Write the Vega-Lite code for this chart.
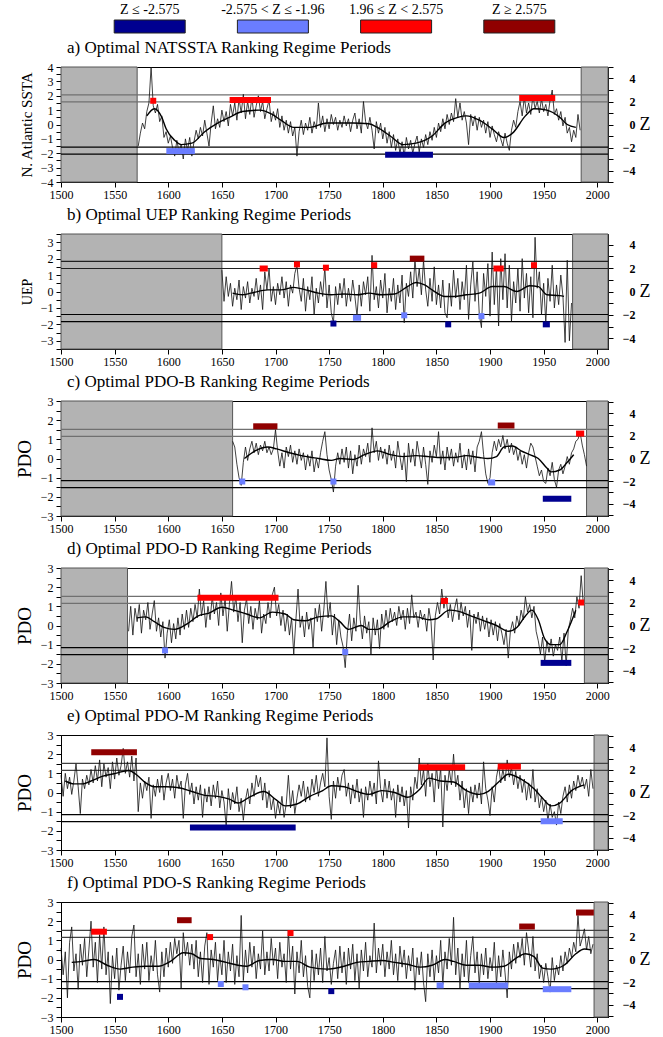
{
"$schema": "https://vega.github.io/schema/vega-lite/v6.json",
"padding": {"left": 14, "top": 2, "right": 4, "bottom": 2},
"spacing": 4,
"vconcat": [
{
 "width": 547, "height": 13,
 "view": {"stroke": null},
 "data": {"values": [{"c":"Z ≤ -2.575"},{"c":"-2.575 < Z ≤ -1.96"},{"c":"1.96 ≤ Z < 2.575"},{"c":"Z ≥ 2.575"}]},
 "mark": {"type": "bar", "width": 71, "stroke": "#222", "strokeWidth": 1},
 "encoding": {
  "x": {"field": "c", "type": "nominal", "sort": null, "scale": {"paddingInner": 0.4, "paddingOuter": 0.42}, "title": null,
        "axis": {"orient": "top", "domain": false, "ticks": false, "labelAngle": 0, "labelFontSize": 14, "labelPadding": 4}},
  "color": {"field": "c", "type": "nominal", "scale": {"domain": ["Z ≤ -2.575","-2.575 < Z ≤ -1.96","1.96 ≤ Z < 2.575","Z ≥ 2.575"], "range": ["#000090","#6a7dff","#ff0000","#900000"]}, "legend": null}
 }
},
{
 "width": 547, "height": 115,
 "title": {"text": "a) Optimal NATSSTA Ranking Regime Periods"},
 "resolve": {"scale": {"y": "independent"}},
 "layer": [
  {"data": {"values": [{"s":1500,"e":1571},{"s":1985,"e":2010}]},
   "mark": {"type": "rect", "fill": "#b3b3b3", "stroke": "#555", "strokeWidth": 1},
   "encoding": {"x": {"field": "s", "type": "quantitative", "scale": {"domain": [1500, 2010], "nice": false, "zero": false}, "title": null}, "x2": {"field": "e"}}},
  {"data": {"values": [{"z":1.96},{"z":2.575},{"z":-1.96},{"z":-2.575}]},
   "mark": {"type": "rule", "strokeWidth": 1.2},
   "encoding": {"y": {"field": "z", "type": "quantitative", "scale": {"domain": [-5, 5], "nice": false, "zero": false}, "axis": {"orient": "right", "title": "Z", "values": [-5,-4,-3,-2,-1,0,1,2,3,4,5]}},
     "color": {"condition": {"test": "datum.z > 0", "value": "#707070"}, "value": "#000"}}},
  {"layer": [
   {"data": {"values": [{"t":1572,"v":-1.5},{"t":1574,"v":-0.6},{"t":1576,"v":0.1},{"t":1578,"v":-0.3},{"t":1580,"v":0.9},{"t":1582,"v":1.5},{"t":1584,"v":4.0},{"t":1586,"v":1.3},{"t":1588,"v":0.8},{"t":1590,"v":1.4},{"t":1592,"v":0.2},{"t":1594,"v":0.6},{"t":1596,"v":-0.9},{"t":1598,"v":-0.5},{"t":1600,"v":-1.3},{"t":1602,"v":-0.8},{"t":1604,"v":-1.6},{"t":1606,"v":-2.2},{"t":1608,"v":-1.1},{"t":1610,"v":-1.9},{"t":1612,"v":-1.4},{"t":1614,"v":-2.4},{"t":1616,"v":-1.0},{"t":1618,"v":-1.8},{"t":1620,"v":-0.9},{"t":1622,"v":-2.2},{"t":1624,"v":-1.2},{"t":1626,"v":-0.4},{"t":1628,"v":-1.0},{"t":1630,"v":-0.2},{"t":1632,"v":-0.8},{"t":1634,"v":0.3},{"t":1636,"v":-0.6},{"t":1638,"v":-1.5},{"t":1640,"v":0.1},{"t":1642,"v":1.3},{"t":1644,"v":-0.3},{"t":1646,"v":0.4},{"t":1648,"v":-0.2},{"t":1650,"v":1.0},{"t":1652,"v":0.2},{"t":1654,"v":0.9},{"t":1656,"v":-0.1},{"t":1658,"v":1.4},{"t":1660,"v":0.6},{"t":1662,"v":1.5},{"t":1664,"v":0.3},{"t":1666,"v":1.8},{"t":1668,"v":0.8},{"t":1670,"v":2.1},{"t":1672,"v":0.4},{"t":1674,"v":1.6},{"t":1676,"v":0.7},{"t":1678,"v":1.9},{"t":1680,"v":0.5},{"t":1682,"v":1.3},{"t":1684,"v":2.0},{"t":1686,"v":0.9},{"t":1688,"v":1.6},{"t":1690,"v":0.4},{"t":1692,"v":1.1},{"t":1694,"v":1.7},{"t":1696,"v":0.2},{"t":1698,"v":0.9},{"t":1700,"v":0.3},{"t":1702,"v":1.1},{"t":1704,"v":-0.2},{"t":1706,"v":0.6},{"t":1708,"v":-0.4},{"t":1710,"v":0.3},{"t":1712,"v":-0.6},{"t":1714,"v":0.2},{"t":1716,"v":-0.8},{"t":1718,"v":-0.2},{"t":1720,"v":-2.2},{"t":1722,"v":-0.5},{"t":1724,"v":0.3},{"t":1726,"v":-0.7},{"t":1728,"v":0.1},{"t":1730,"v":-0.4},{"t":1732,"v":0.5},{"t":1734,"v":-0.6},{"t":1736,"v":0.2},{"t":1738,"v":-0.3},{"t":1740,"v":1.5},{"t":1742,"v":-0.2},{"t":1744,"v":0.6},{"t":1746,"v":-0.5},{"t":1748,"v":0.4},{"t":1750,"v":-0.3},{"t":1752,"v":0.7},{"t":1754,"v":0.0},{"t":1756,"v":0.5},{"t":1758,"v":-0.4},{"t":1760,"v":0.3},{"t":1762,"v":-0.2},{"t":1764,"v":0.6},{"t":1766,"v":-0.1},{"t":1768,"v":0.4},{"t":1770,"v":-0.5},{"t":1772,"v":0.3},{"t":1774,"v":0.8},{"t":1776,"v":-0.3},{"t":1778,"v":0.4},{"t":1780,"v":-0.6},{"t":1782,"v":1.6},{"t":1784,"v":0.2},{"t":1786,"v":-0.3},{"t":1788,"v":0.5},{"t":1790,"v":-0.4},{"t":1792,"v":-1.7},{"t":1794,"v":0.2},{"t":1796,"v":-0.6},{"t":1798,"v":0.1},{"t":1800,"v":-1.0},{"t":1802,"v":-0.2},{"t":1804,"v":-1.3},{"t":1806,"v":-0.5},{"t":1808,"v":-1.6},{"t":1810,"v":-0.7},{"t":1812,"v":-1.8},{"t":1814,"v":-1.0},{"t":1816,"v":-2.0},{"t":1818,"v":-1.2},{"t":1820,"v":-2.2},{"t":1822,"v":-0.9},{"t":1824,"v":-1.7},{"t":1826,"v":-1.1},{"t":1828,"v":-2.0},{"t":1830,"v":-1.3},{"t":1832,"v":-0.8},{"t":1834,"v":-1.9},{"t":1836,"v":-1.0},{"t":1838,"v":-1.6},{"t":1840,"v":-0.7},{"t":1842,"v":-1.4},{"t":1844,"v":-0.5},{"t":1846,"v":-1.1},{"t":1848,"v":-0.2},{"t":1850,"v":-0.9},{"t":1852,"v":0.1},{"t":1854,"v":-0.5},{"t":1856,"v":0.4},{"t":1858,"v":-0.3},{"t":1860,"v":0.7},{"t":1862,"v":0.0},{"t":1864,"v":0.8},{"t":1866,"v":0.2},{"t":1868,"v":1.8},{"t":1870,"v":0.5},{"t":1872,"v":1.5},{"t":1874,"v":0.3},{"t":1876,"v":0.9},{"t":1878,"v":0.1},{"t":1880,"v":-1.4},{"t":1882,"v":0.7},{"t":1884,"v":-0.1},{"t":1886,"v":0.6},{"t":1888,"v":-0.4},{"t":1890,"v":0.5},{"t":1892,"v":-0.2},{"t":1894,"v":0.3},{"t":1896,"v":-0.6},{"t":1898,"v":0.2},{"t":1900,"v":-0.9},{"t":1902,"v":-0.1},{"t":1904,"v":-0.7},{"t":1906,"v":-1.2},{"t":1908,"v":-0.5},{"t":1910,"v":-1.0},{"t":1912,"v":-1.5},{"t":1914,"v":-0.6},{"t":1916,"v":-1.3},{"t":1918,"v":-1.8},{"t":1920,"v":-0.4},{"t":1922,"v":0.3},{"t":1924,"v":-0.2},{"t":1926,"v":0.9},{"t":1928,"v":1.6},{"t":1930,"v":0.6},{"t":1932,"v":1.9},{"t":1934,"v":0.8},{"t":1936,"v":1.5},{"t":1938,"v":0.7},{"t":1940,"v":2.0},{"t":1942,"v":1.1},{"t":1944,"v":1.6},{"t":1946,"v":0.8},{"t":1948,"v":1.8},{"t":1950,"v":0.9},{"t":1952,"v":1.4},{"t":1954,"v":0.6},{"t":1956,"v":1.7},{"t":1958,"v":2.4},{"t":1960,"v":0.7},{"t":1962,"v":1.1},{"t":1964,"v":0.3},{"t":1966,"v":0.9},{"t":1968,"v":-0.1},{"t":1970,"v":0.5},{"t":1972,"v":-0.6},{"t":1974,"v":-0.2},{"t":1976,"v":-1.2},{"t":1978,"v":-0.4},{"t":1980,"v":-0.9},{"t":1982,"v":0.7},{"t":1984,"v":-0.4}]},
    "mark": {"type": "line", "color": "#111", "strokeWidth": 0.8},
    "encoding": {"x": {"field": "t", "type": "quantitative", "title": null}, "y": {"field": "v", "type": "quantitative", "scale": {"domain": [-4, 4], "nice": false, "zero": false}, "axis": {"orient": "left", "title": "N. Atlantic SSTA", "titleFontSize": 15, "values": [-4,-3.5,-3,-2.5,-2,-1.5,-1,-0.5,0,0.5,1,1.5,2,2.5,3,3.5,4]}}}},
   {"data": {"values": [{"t":1580,"v":0.6},{"t":1587,"v":1.1},{"t":1594,"v":0.5},{"t":1598,"v":-0.3},{"t":1606,"v":-1.1},{"t":1612,"v":-1.4},{"t":1622,"v":-1.3},{"t":1634,"v":-0.5},{"t":1646,"v":0.1},{"t":1657,"v":0.5},{"t":1669,"v":0.9},{"t":1685,"v":1.0},{"t":1697,"v":0.7},{"t":1705,"v":0.3},{"t":1717,"v":-0.2},{"t":1732,"v":-0.2},{"t":1748,"v":0.1},{"t":1772,"v":0.1},{"t":1787,"v":0.05},{"t":1795,"v":-0.2},{"t":1807,"v":-0.8},{"t":1819,"v":-1.4},{"t":1831,"v":-1.3},{"t":1846,"v":-0.8},{"t":1858,"v":0.1},{"t":1870,"v":0.5},{"t":1878,"v":0.6},{"t":1890,"v":0.3},{"t":1902,"v":-0.3},{"t":1913,"v":-0.9},{"t":1921,"v":-0.6},{"t":1933,"v":0.6},{"t":1941,"v":1.1},{"t":1953,"v":1.0},{"t":1965,"v":0.5},{"t":1972,"v":0.0},{"t":1980,"v":-0.2}]},
    "mark": {"type": "line", "color": "#000", "strokeWidth": 1.4, "interpolate": "monotone"},
    "encoding": {"x": {"field": "t", "type": "quantitative", "title": null}, "y": {"field": "v", "type": "quantitative", "axis": {"orient": "left", "title": "N. Atlantic SSTA", "titleFontSize": 15, "values": [-4,-3.5,-3,-2.5,-2,-1.5,-1,-0.5,0,0.5,1,1.5,2,2.5,3,3.5,4]}}}},
   {"data": {"values": [{"s":1586,"e":1586,"v":1.65,"c":"1.96 ≤ Z < 2.575"},{"s":1660,"e":1693,"v":1.7,"c":"1.96 ≤ Z < 2.575"},{"s":1930,"e":1958,"v":1.85,"c":"1.96 ≤ Z < 2.575"},{"s":1601,"e":1622,"v":-1.85,"c":"-2.575 < Z ≤ -1.96"},{"s":1805,"e":1844,"v":-2.1,"c":"Z ≤ -2.575"}]},
    "mark": {"type": "rule", "strokeWidth": 6, "strokeCap": "square"},
    "encoding": {"x": {"field": "s", "type": "quantitative", "title": null}, "x2": {"field": "e"}, "y": {"field": "v", "type": "quantitative", "axis": {"orient": "left", "title": "N. Atlantic SSTA", "titleFontSize": 15, "values": [-4,-3.5,-3,-2.5,-2,-1.5,-1,-0.5,0,0.5,1,1.5,2,2.5,3,3.5,4]}},
      "color": {"field": "c", "type": "nominal", "scale": {"domain": ["Z ≤ -2.575","-2.575 < Z ≤ -1.96","1.96 ≤ Z < 2.575","Z ≥ 2.575"], "range": ["#000090","#6a7dff","#ff0000","#900000"]}, "legend": null}}}
  ]}
 ]
},
{
 "width": 547, "height": 115,
 "title": {"text": "b) Optimal UEP Ranking Regime Periods"},
 "resolve": {"scale": {"y": "independent"}},
 "layer": [
  {"data": {"values": [{"s":1500,"e":1650},{"s":1977,"e":2010}]},
   "mark": {"type": "rect", "fill": "#b3b3b3", "stroke": "#555", "strokeWidth": 1},
   "encoding": {"x": {"field": "s", "type": "quantitative", "scale": {"domain": [1500, 2010], "nice": false, "zero": false}, "title": null}, "x2": {"field": "e"}}},
  {"data": {"values": [{"z":1.96},{"z":2.575},{"z":-1.96},{"z":-2.575}]},
   "mark": {"type": "rule", "strokeWidth": 1.2},
   "encoding": {"y": {"field": "z", "type": "quantitative", "scale": {"domain": [-4.9, 4.9], "nice": false, "zero": false}, "axis": {"orient": "right", "title": "Z", "values": [-4,-3,-2,-1,0,1,2,3,4]}},
     "color": {"condition": {"test": "datum.z > 0", "value": "#202020"}, "value": "#000"}}},
  {"layer": [
   {"data": {"values": [{"t":1650,"v":1.3},{"t":1652,"v":-0.6},{"t":1654,"v":0.9},{"t":1656,"v":-0.3},{"t":1658,"v":0.5},{"t":1660,"v":-0.9},{"t":1662,"v":0.2},{"t":1664,"v":-0.5},{"t":1666,"v":0.7},{"t":1668,"v":-1.1},{"t":1670,"v":0.3},{"t":1672,"v":-0.4},{"t":1674,"v":0.6},{"t":1676,"v":-0.7},{"t":1678,"v":0.2},{"t":1680,"v":-0.3},{"t":1682,"v":0.8},{"t":1684,"v":-0.5},{"t":1686,"v":0.4},{"t":1688,"v":-1.1},{"t":1690,"v":1.2},{"t":1692,"v":0.1},{"t":1694,"v":1.4},{"t":1696,"v":-0.6},{"t":1698,"v":0.3},{"t":1700,"v":-0.8},{"t":1702,"v":0.5},{"t":1704,"v":-0.2},{"t":1706,"v":0.9},{"t":1708,"v":-0.4},{"t":1710,"v":0.6},{"t":1712,"v":-0.9},{"t":1714,"v":0.4},{"t":1716,"v":-0.1},{"t":1718,"v":1.1},{"t":1720,"v":1.6},{"t":1722,"v":0.2},{"t":1724,"v":-0.6},{"t":1726,"v":0.8},{"t":1728,"v":-1.2},{"t":1730,"v":0.3},{"t":1732,"v":-0.5},{"t":1734,"v":0.9},{"t":1736,"v":-1.4},{"t":1738,"v":0.2},{"t":1740,"v":-0.7},{"t":1742,"v":0.6},{"t":1744,"v":-0.3},{"t":1746,"v":1.5},{"t":1748,"v":-1.0},{"t":1750,"v":0.4},{"t":1752,"v":-1.3},{"t":1754,"v":-1.9},{"t":1756,"v":0.3},{"t":1758,"v":-0.8},{"t":1760,"v":0.5},{"t":1762,"v":-0.4},{"t":1764,"v":0.8},{"t":1766,"v":-0.9},{"t":1768,"v":0.2},{"t":1770,"v":-0.6},{"t":1772,"v":0.7},{"t":1774,"v":-0.3},{"t":1776,"v":-1.5},{"t":1778,"v":0.4},{"t":1780,"v":-0.9},{"t":1782,"v":0.6},{"t":1784,"v":-0.2},{"t":1786,"v":0.9},{"t":1788,"v":-1.2},{"t":1790,"v":2.2},{"t":1792,"v":-0.5},{"t":1794,"v":0.3},{"t":1796,"v":-1.0},{"t":1798,"v":0.7},{"t":1800,"v":-0.4},{"t":1802,"v":1.1},{"t":1804,"v":-1.3},{"t":1806,"v":0.2},{"t":1808,"v":-0.6},{"t":1810,"v":0.8},{"t":1812,"v":-1.1},{"t":1814,"v":0.4},{"t":1816,"v":-0.7},{"t":1818,"v":1.0},{"t":1820,"v":-1.9},{"t":1822,"v":0.5},{"t":1824,"v":-0.3},{"t":1826,"v":1.2},{"t":1828,"v":-0.4},{"t":1830,"v":2.0},{"t":1832,"v":0.3},{"t":1834,"v":1.4},{"t":1836,"v":-0.2},{"t":1838,"v":1.9},{"t":1840,"v":0.1},{"t":1842,"v":-0.9},{"t":1844,"v":0.8},{"t":1846,"v":-0.6},{"t":1848,"v":1.5},{"t":1850,"v":-0.8},{"t":1852,"v":0.4},{"t":1854,"v":-1.0},{"t":1856,"v":0.7},{"t":1858,"v":-1.3},{"t":1860,"v":-1.6},{"t":1862,"v":0.5},{"t":1864,"v":-0.9},{"t":1866,"v":1.3},{"t":1868,"v":-0.4},{"t":1870,"v":0.8},{"t":1872,"v":-1.1},{"t":1874,"v":0.6},{"t":1876,"v":-0.5},{"t":1878,"v":1.6},{"t":1880,"v":-1.7},{"t":1882,"v":0.4},{"t":1884,"v":1.8},{"t":1886,"v":-0.6},{"t":1888,"v":1.2},{"t":1890,"v":-1.4},{"t":1892,"v":-2.2},{"t":1894,"v":1.1},{"t":1896,"v":-0.3},{"t":1898,"v":1.7},{"t":1900,"v":-1.5},{"t":1902,"v":2.4},{"t":1904,"v":-0.8},{"t":1906,"v":1.5},{"t":1908,"v":-2.1},{"t":1910,"v":2.0},{"t":1912,"v":-0.5},{"t":1914,"v":2.3},{"t":1916,"v":-1.0},{"t":1918,"v":1.6},{"t":1920,"v":-1.8},{"t":1922,"v":0.6},{"t":1924,"v":-0.7},{"t":1926,"v":1.4},{"t":1928,"v":-1.2},{"t":1930,"v":2.0},{"t":1932,"v":-0.4},{"t":1934,"v":1.1},{"t":1936,"v":-1.3},{"t":1938,"v":0.9},{"t":1940,"v":-1.6},{"t":1942,"v":3.3},{"t":1944,"v":0.2},{"t":1946,"v":1.2},{"t":1948,"v":-1.4},{"t":1950,"v":0.5},{"t":1952,"v":-1.9},{"t":1954,"v":0.8},{"t":1956,"v":-0.6},{"t":1958,"v":1.6},{"t":1960,"v":-1.0},{"t":1962,"v":0.4},{"t":1964,"v":-0.8},{"t":1966,"v":1.0},{"t":1968,"v":-0.3},{"t":1970,"v":-3.1},{"t":1972,"v":1.9},{"t":1974,"v":-3.0},{"t":1976,"v":-0.7}]},
    "mark": {"type": "line", "color": "#111", "strokeWidth": 0.8},
    "encoding": {"x": {"field": "t", "type": "quantitative", "title": null}, "y": {"field": "v", "type": "quantitative", "scale": {"domain": [-3.5, 3.5], "nice": false, "zero": false}, "axis": {"orient": "left", "title": "UEP", "titleFontSize": 14, "values": [-3.5,-3,-2.5,-2,-1.5,-1,-0.5,0,0.5,1,1.5,2,2.5,3,3.5]}}}},
   {"data": {"values": [{"t":1660,"v":-0.1},{"t":1669,"v":-0.2},{"t":1677,"v":-0.1},{"t":1693,"v":0.1},{"t":1705,"v":0.1},{"t":1717,"v":0.25},{"t":1728,"v":0.1},{"t":1740,"v":-0.1},{"t":1752,"v":-0.2},{"t":1764,"v":-0.15},{"t":1776,"v":-0.2},{"t":1787,"v":-0.1},{"t":1799,"v":-0.2},{"t":1811,"v":-0.15},{"t":1823,"v":0.3},{"t":1831,"v":0.55},{"t":1839,"v":0.4},{"t":1846,"v":0.1},{"t":1858,"v":-0.3},{"t":1866,"v":-0.3},{"t":1878,"v":-0.2},{"t":1890,"v":-0.1},{"t":1902,"v":0.3},{"t":1913,"v":0.3},{"t":1925,"v":0.0},{"t":1937,"v":0.35},{"t":1945,"v":0.3},{"t":1953,"v":-0.2},{"t":1965,"v":-0.25},{"t":1969,"v":-0.3}]},
    "mark": {"type": "line", "color": "#000", "strokeWidth": 1.4, "interpolate": "monotone"},
    "encoding": {"x": {"field": "t", "type": "quantitative", "title": null}, "y": {"field": "v", "type": "quantitative", "axis": {"orient": "left", "title": "UEP", "titleFontSize": 14, "values": [-3.5,-3,-2.5,-2,-1.5,-1,-0.5,0,0.5,1,1.5,2,2.5,3,3.5]}}}},
   {"data": {"values": [{"s":1688,"e":1690,"v":1.4,"c":"1.96 ≤ Z < 2.575"},{"s":1720,"e":1720,"v":1.65,"c":"1.96 ≤ Z < 2.575"},{"s":1747,"e":1747,"v":1.45,"c":"1.96 ≤ Z < 2.575"},{"s":1792,"e":1792,"v":1.6,"c":"1.96 ≤ Z < 2.575"},{"s":1828,"e":1836,"v":2.0,"c":"Z ≥ 2.575"},{"s":1906,"e":1910,"v":1.4,"c":"1.96 ≤ Z < 2.575"},{"s":1941,"e":1941,"v":1.6,"c":"1.96 ≤ Z < 2.575"},{"s":1754,"e":1754,"v":-1.95,"c":"Z ≤ -2.575"},{"s":1775,"e":1777,"v":-1.6,"c":"-2.575 < Z ≤ -1.96"},{"s":1820,"e":1820,"v":-1.45,"c":"-2.575 < Z ≤ -1.96"},{"s":1861,"e":1861,"v":-2.0,"c":"Z ≤ -2.575"},{"s":1892,"e":1892,"v":-1.5,"c":"-2.575 < Z ≤ -1.96"},{"s":1952,"e":1953,"v":-2.0,"c":"Z ≤ -2.575"}]},
    "mark": {"type": "rule", "strokeWidth": 6, "strokeCap": "square"},
    "encoding": {"x": {"field": "s", "type": "quantitative", "title": null}, "x2": {"field": "e"}, "y": {"field": "v", "type": "quantitative", "axis": {"orient": "left", "title": "UEP", "titleFontSize": 14, "values": [-3.5,-3,-2.5,-2,-1.5,-1,-0.5,0,0.5,1,1.5,2,2.5,3,3.5]}},
      "color": {"field": "c", "type": "nominal", "scale": {"domain": ["Z ≤ -2.575","-2.575 < Z ≤ -1.96","1.96 ≤ Z < 2.575","Z ≥ 2.575"], "range": ["#000090","#6a7dff","#ff0000","#900000"]}, "legend": null}}}
  ]}
 ]
},
{
 "width": 547, "height": 115,
 "title": {"text": "c) Optimal PDO-B Ranking Regime Periods"},
 "resolve": {"scale": {"y": "independent"}},
 "layer": [
  {"data": {"values": [{"s":1500,"e":1660},{"s":1990,"e":2010}]},
   "mark": {"type": "rect", "fill": "#b3b3b3", "stroke": "#555", "strokeWidth": 1},
   "encoding": {"x": {"field": "s", "type": "quantitative", "scale": {"domain": [1500, 2010], "nice": false, "zero": false}, "title": null}, "x2": {"field": "e"}}},
  {"data": {"values": [{"z":1.96},{"z":2.575},{"z":-1.96},{"z":-2.575}]},
   "mark": {"type": "rule", "strokeWidth": 1.2},
   "encoding": {"y": {"field": "z", "type": "quantitative", "scale": {"domain": [-5.1, 5.1], "nice": false, "zero": false}, "axis": {"orient": "right", "title": "Z", "values": [-5,-4,-3,-2,-1,0,1,2,3,4,5]}},
     "color": {"condition": {"test": "datum.z > 0", "value": "#707070"}, "value": "#000"}}},
  {"layer": [
   {"data": {"values": [{"t":1660,"v":0.9},{"t":1662,"v":0.6},{"t":1664,"v":-0.3},{"t":1666,"v":-1.0},{"t":1668,"v":-1.4},{"t":1670,"v":-0.2},{"t":1672,"v":0.6},{"t":1674,"v":-0.1},{"t":1676,"v":0.5},{"t":1678,"v":0.9},{"t":1680,"v":0.3},{"t":1682,"v":0.8},{"t":1684,"v":0.2},{"t":1686,"v":0.7},{"t":1688,"v":0.4},{"t":1690,"v":0.9},{"t":1692,"v":0.3},{"t":1694,"v":0.6},{"t":1696,"v":0.2},{"t":1698,"v":0.5},{"t":1700,"v":1.5},{"t":1702,"v":0.4},{"t":1704,"v":-0.4},{"t":1706,"v":0.3},{"t":1708,"v":-0.5},{"t":1710,"v":0.6},{"t":1712,"v":0.1},{"t":1714,"v":0.7},{"t":1716,"v":-0.2},{"t":1718,"v":0.4},{"t":1720,"v":-0.3},{"t":1722,"v":0.5},{"t":1724,"v":-0.1},{"t":1726,"v":0.3},{"t":1728,"v":-0.6},{"t":1730,"v":0.2},{"t":1732,"v":-0.4},{"t":1734,"v":0.4},{"t":1736,"v":-0.7},{"t":1738,"v":0.0},{"t":1740,"v":-0.5},{"t":1742,"v":0.3},{"t":1744,"v":0.9},{"t":1746,"v":1.4},{"t":1748,"v":0.2},{"t":1750,"v":-0.6},{"t":1752,"v":-1.1},{"t":1754,"v":-1.75},{"t":1756,"v":-0.4},{"t":1758,"v":0.3},{"t":1760,"v":-0.3},{"t":1762,"v":0.5},{"t":1764,"v":-0.2},{"t":1766,"v":0.6},{"t":1768,"v":-0.5},{"t":1770,"v":0.4},{"t":1772,"v":-0.8},{"t":1774,"v":0.2},{"t":1776,"v":-0.4},{"t":1778,"v":0.7},{"t":1780,"v":-0.3},{"t":1782,"v":0.5},{"t":1784,"v":0.1},{"t":1786,"v":0.8},{"t":1788,"v":-0.2},{"t":1790,"v":1.6},{"t":1792,"v":0.3},{"t":1794,"v":0.9},{"t":1796,"v":-0.1},{"t":1798,"v":0.6},{"t":1800,"v":0.0},{"t":1802,"v":0.5},{"t":1804,"v":-0.3},{"t":1806,"v":0.7},{"t":1808,"v":-0.1},{"t":1810,"v":0.4},{"t":1812,"v":-0.5},{"t":1814,"v":0.9},{"t":1816,"v":0.1},{"t":1818,"v":-0.6},{"t":1820,"v":0.3},{"t":1822,"v":-1.2},{"t":1824,"v":0.8},{"t":1826,"v":-0.2},{"t":1828,"v":0.5},{"t":1830,"v":-0.4},{"t":1832,"v":0.9},{"t":1834,"v":0.2},{"t":1836,"v":-0.5},{"t":1838,"v":0.6},{"t":1840,"v":-0.3},{"t":1842,"v":-1.35},{"t":1844,"v":0.4},{"t":1846,"v":-0.2},{"t":1848,"v":0.7},{"t":1850,"v":0.1},{"t":1852,"v":1.4},{"t":1854,"v":-0.3},{"t":1856,"v":0.4},{"t":1858,"v":-0.6},{"t":1860,"v":0.6},{"t":1862,"v":-0.1},{"t":1864,"v":0.5},{"t":1866,"v":-0.4},{"t":1868,"v":0.3},{"t":1870,"v":-0.2},{"t":1872,"v":0.8},{"t":1874,"v":-0.5},{"t":1876,"v":0.2},{"t":1878,"v":-0.6},{"t":1880,"v":0.5},{"t":1882,"v":-0.3},{"t":1884,"v":0.4},{"t":1886,"v":-0.7},{"t":1888,"v":0.6},{"t":1890,"v":0.9},{"t":1892,"v":1.4},{"t":1894,"v":0.2},{"t":1896,"v":-0.8},{"t":1898,"v":-1.3},{"t":1900,"v":-1.0},{"t":1902,"v":0.3},{"t":1904,"v":0.9},{"t":1906,"v":0.4},{"t":1908,"v":1.0},{"t":1910,"v":0.6},{"t":1912,"v":1.2},{"t":1914,"v":0.5},{"t":1916,"v":1.0},{"t":1918,"v":0.3},{"t":1920,"v":0.8},{"t":1922,"v":0.2},{"t":1924,"v":0.6},{"t":1926,"v":-0.1},{"t":1928,"v":0.4},{"t":1930,"v":-0.3},{"t":1932,"v":0.2},{"t":1934,"v":-0.5},{"t":1936,"v":0.3},{"t":1938,"v":0.8},{"t":1940,"v":0.6},{"t":1942,"v":0.1},{"t":1944,"v":-0.4},{"t":1946,"v":-0.9},{"t":1948,"v":-0.6},{"t":1950,"v":-1.2},{"t":1952,"v":-1.3},{"t":1954,"v":-0.5},{"t":1956,"v":-0.9},{"t":1958,"v":-0.2},{"t":1960,"v":-1.1},{"t":1962,"v":-1.5},{"t":1964,"v":-0.6},{"t":1966,"v":-0.3},{"t":1968,"v":-0.8},{"t":1970,"v":-0.4},{"t":1972,"v":0.1},{"t":1974,"v":-0.3},{"t":1976,"v":0.3},{"t":1978,"v":0.5},{"t":1980,"v":0.9},{"t":1982,"v":1.0},{"t":1984,"v":1.35},{"t":1986,"v":0.7},{"t":1988,"v":0.2},{"t":1990,"v":-0.4}]},
    "mark": {"type": "line", "color": "#111", "strokeWidth": 0.8},
    "encoding": {"x": {"field": "t", "type": "quantitative", "title": null}, "y": {"field": "v", "type": "quantitative", "scale": {"domain": [-3, 3], "nice": false, "zero": false}, "axis": {"orient": "left", "title": "PDO", "titleFontSize": 19, "values": [-3,-2.5,-2,-1.5,-1,-0.5,0,0.5,1,1.5,2,2.5,3]}}}},
   {"data": {"values": [{"t":1671,"v":0.0},{"t":1681,"v":0.4},{"t":1693,"v":0.6},{"t":1701,"v":0.5},{"t":1713,"v":0.3},{"t":1724,"v":0.15},{"t":1740,"v":0.0},{"t":1752,"v":-0.1},{"t":1760,"v":0.0},{"t":1772,"v":-0.05},{"t":1783,"v":0.2},{"t":1795,"v":0.4},{"t":1807,"v":0.2},{"t":1819,"v":0.1},{"t":1831,"v":0.15},{"t":1843,"v":0.1},{"t":1854,"v":0.05},{"t":1866,"v":0.05},{"t":1878,"v":0.15},{"t":1890,"v":0.05},{"t":1898,"v":0.0},{"t":1906,"v":0.1},{"t":1913,"v":0.6},{"t":1921,"v":0.65},{"t":1929,"v":0.4},{"t":1937,"v":0.2},{"t":1945,"v":0.0},{"t":1953,"v":-0.5},{"t":1957,"v":-0.7},{"t":1965,"v":-0.6},{"t":1972,"v":-0.2},{"t":1978,"v":0.2}]},
    "mark": {"type": "line", "color": "#000", "strokeWidth": 1.4, "interpolate": "monotone"},
    "encoding": {"x": {"field": "t", "type": "quantitative", "title": null}, "y": {"field": "v", "type": "quantitative", "axis": {"orient": "left", "title": "PDO", "titleFontSize": 19, "values": [-3,-2.5,-2,-1.5,-1,-0.5,0,0.5,1,1.5,2,2.5,3]}}}},
   {"data": {"values": [{"s":1682,"e":1699,"v":1.68,"c":"Z ≥ 2.575"},{"s":1910,"e":1920,"v":1.72,"c":"Z ≥ 2.575"},{"s":1983,"e":1985,"v":1.3,"c":"1.96 ≤ Z < 2.575"},{"s":1669,"e":1669,"v":-1.2,"c":"-2.575 < Z ≤ -1.96"},{"s":1754,"e":1754,"v":-1.2,"c":"-2.575 < Z ≤ -1.96"},{"s":1901,"e":1902,"v":-1.25,"c":"-2.575 < Z ≤ -1.96"},{"s":1952,"e":1973,"v":-2.1,"c":"Z ≤ -2.575"}]},
    "mark": {"type": "rule", "strokeWidth": 6, "strokeCap": "square"},
    "encoding": {"x": {"field": "s", "type": "quantitative", "title": null}, "x2": {"field": "e"}, "y": {"field": "v", "type": "quantitative", "axis": {"orient": "left", "title": "PDO", "titleFontSize": 19, "values": [-3,-2.5,-2,-1.5,-1,-0.5,0,0.5,1,1.5,2,2.5,3]}},
      "color": {"field": "c", "type": "nominal", "scale": {"domain": ["Z ≤ -2.575","-2.575 < Z ≤ -1.96","1.96 ≤ Z < 2.575","Z ≥ 2.575"], "range": ["#000090","#6a7dff","#ff0000","#900000"]}, "legend": null}}}
  ]}
 ]
},
{
 "width": 547, "height": 115,
 "title": {"text": "d) Optimal PDO-D Ranking Regime Periods"},
 "resolve": {"scale": {"y": "independent"}},
 "layer": [
  {"data": {"values": [{"s":1500,"e":1562},{"s":1988,"e":2010}]},
   "mark": {"type": "rect", "fill": "#b3b3b3", "stroke": "#555", "strokeWidth": 1},
   "encoding": {"x": {"field": "s", "type": "quantitative", "scale": {"domain": [1500, 2010], "nice": false, "zero": false}, "title": null}, "x2": {"field": "e"}}},
  {"data": {"values": [{"z":1.96},{"z":2.575},{"z":-1.96},{"z":-2.575}]},
   "mark": {"type": "rule", "strokeWidth": 1.2},
   "encoding": {"y": {"field": "z", "type": "quantitative", "scale": {"domain": [-5.1, 5.1], "nice": false, "zero": false}, "axis": {"orient": "right", "title": "Z", "values": [-5,-4,-3,-2,-1,0,1,2,3,4,5]}},
     "color": {"condition": {"test": "datum.z > 0", "value": "#707070"}, "value": "#000"}}},
  {"layer": [
   {"data": {"values": [{"t":1563,"v":-0.3},{"t":1565,"v":1.0},{"t":1567,"v":-0.5},{"t":1569,"v":0.9},{"t":1571,"v":0.2},{"t":1573,"v":1.1},{"t":1575,"v":-0.4},{"t":1577,"v":0.8},{"t":1579,"v":0.3},{"t":1581,"v":1.2},{"t":1583,"v":-0.2},{"t":1585,"v":0.6},{"t":1587,"v":1.3},{"t":1589,"v":-0.3},{"t":1591,"v":0.4},{"t":1593,"v":-0.6},{"t":1595,"v":0.2},{"t":1597,"v":-1.7},{"t":1599,"v":-0.4},{"t":1601,"v":0.3},{"t":1603,"v":-0.9},{"t":1605,"v":0.1},{"t":1607,"v":-0.7},{"t":1609,"v":0.4},{"t":1611,"v":-0.5},{"t":1613,"v":0.6},{"t":1615,"v":-0.2},{"t":1617,"v":0.8},{"t":1619,"v":-0.1},{"t":1621,"v":0.9},{"t":1623,"v":0.2},{"t":1625,"v":1.1},{"t":1627,"v":0.4},{"t":1629,"v":1.9},{"t":1631,"v":0.5},{"t":1633,"v":1.3},{"t":1635,"v":-0.1},{"t":1637,"v":1.0},{"t":1639,"v":0.3},{"t":1641,"v":1.5},{"t":1643,"v":0.6},{"t":1645,"v":1.2},{"t":1647,"v":0.0},{"t":1649,"v":1.7},{"t":1651,"v":0.5},{"t":1653,"v":1.4},{"t":1655,"v":-0.3},{"t":1657,"v":1.1},{"t":1659,"v":2.3},{"t":1661,"v":0.7},{"t":1663,"v":1.5},{"t":1665,"v":0.2},{"t":1667,"v":1.2},{"t":1669,"v":-0.9},{"t":1671,"v":0.8},{"t":1673,"v":1.4},{"t":1675,"v":0.1},{"t":1677,"v":1.0},{"t":1679,"v":-0.2},{"t":1681,"v":0.9},{"t":1683,"v":0.3},{"t":1685,"v":1.3},{"t":1687,"v":-0.4},{"t":1689,"v":0.6},{"t":1691,"v":0.1},{"t":1693,"v":1.2},{"t":1695,"v":0.4},{"t":1697,"v":1.6},{"t":1699,"v":2.0},{"t":1701,"v":0.5},{"t":1703,"v":1.1},{"t":1705,"v":0.0},{"t":1707,"v":0.8},{"t":1709,"v":-0.3},{"t":1711,"v":0.6},{"t":1713,"v":-0.5},{"t":1715,"v":0.4},{"t":1717,"v":-1.5},{"t":1719,"v":0.3},{"t":1721,"v":1.9},{"t":1723,"v":-0.1},{"t":1725,"v":0.5},{"t":1727,"v":-0.6},{"t":1729,"v":0.7},{"t":1731,"v":-0.2},{"t":1733,"v":0.4},{"t":1735,"v":-1.15},{"t":1737,"v":0.9},{"t":1739,"v":0.2},{"t":1741,"v":1.1},{"t":1743,"v":-0.3},{"t":1745,"v":0.8},{"t":1747,"v":2.3},{"t":1749,"v":0.4},{"t":1751,"v":1.2},{"t":1753,"v":-0.5},{"t":1755,"v":0.6},{"t":1757,"v":-1.0},{"t":1759,"v":0.3},{"t":1761,"v":-0.6},{"t":1763,"v":-1.1},{"t":1765,"v":-2.2},{"t":1767,"v":-0.4},{"t":1769,"v":0.6},{"t":1771,"v":-0.8},{"t":1773,"v":0.4},{"t":1775,"v":-0.3},{"t":1777,"v":2.1},{"t":1779,"v":0.3},{"t":1781,"v":-0.7},{"t":1783,"v":0.5},{"t":1785,"v":-0.4},{"t":1787,"v":0.2},{"t":1789,"v":-1.5},{"t":1791,"v":0.4},{"t":1793,"v":-0.5},{"t":1795,"v":0.3},{"t":1797,"v":-1.2},{"t":1799,"v":0.6},{"t":1801,"v":-0.2},{"t":1803,"v":0.8},{"t":1805,"v":-0.1},{"t":1807,"v":0.9},{"t":1809,"v":0.2},{"t":1811,"v":0.7},{"t":1813,"v":0.0},{"t":1815,"v":1.0},{"t":1817,"v":0.3},{"t":1819,"v":0.8},{"t":1821,"v":-0.2},{"t":1823,"v":0.9},{"t":1825,"v":0.1},{"t":1827,"v":1.6},{"t":1829,"v":0.4},{"t":1831,"v":0.7},{"t":1833,"v":-0.1},{"t":1835,"v":0.8},{"t":1837,"v":0.3},{"t":1839,"v":0.6},{"t":1841,"v":-0.3},{"t":1843,"v":0.9},{"t":1845,"v":0.2},{"t":1847,"v":-1.8},{"t":1849,"v":0.5},{"t":1851,"v":1.2},{"t":1853,"v":0.6},{"t":1855,"v":1.9},{"t":1857,"v":0.9},{"t":1859,"v":1.5},{"t":1861,"v":0.4},{"t":1863,"v":1.1},{"t":1865,"v":0.2},{"t":1867,"v":0.9},{"t":1869,"v":1.4},{"t":1871,"v":0.3},{"t":1873,"v":1.2},{"t":1875,"v":0.5},{"t":1877,"v":1.0},{"t":1879,"v":-0.1},{"t":1881,"v":0.8},{"t":1883,"v":-1.3},{"t":1885,"v":0.6},{"t":1887,"v":0.1},{"t":1889,"v":0.7},{"t":1891,"v":-0.3},{"t":1893,"v":0.5},{"t":1895,"v":-0.2},{"t":1897,"v":0.4},{"t":1899,"v":-0.6},{"t":1901,"v":0.3},{"t":1903,"v":-0.5},{"t":1905,"v":0.2},{"t":1907,"v":-0.8},{"t":1909,"v":0.1},{"t":1911,"v":-0.4},{"t":1913,"v":-1.0},{"t":1915,"v":-0.2},{"t":1917,"v":-1.7},{"t":1919,"v":-0.3},{"t":1921,"v":0.2},{"t":1923,"v":-0.4},{"t":1925,"v":0.5},{"t":1927,"v":0.0},{"t":1929,"v":0.8},{"t":1931,"v":0.3},{"t":1933,"v":1.5},{"t":1935,"v":0.7},{"t":1937,"v":1.1},{"t":1939,"v":0.4},{"t":1941,"v":1.0},{"t":1943,"v":-0.3},{"t":1945,"v":-0.8},{"t":1947,"v":-1.5},{"t":1949,"v":-0.6},{"t":1951,"v":-1.9},{"t":1953,"v":-0.8},{"t":1955,"v":-1.4},{"t":1957,"v":-0.7},{"t":1959,"v":-1.6},{"t":1961,"v":-1.0},{"t":1963,"v":-1.3},{"t":1965,"v":-0.6},{"t":1967,"v":-1.9},{"t":1969,"v":-0.4},{"t":1971,"v":-2.1},{"t":1973,"v":-0.2},{"t":1975,"v":0.3},{"t":1977,"v":0.9},{"t":1979,"v":0.4},{"t":1981,"v":1.5},{"t":1983,"v":0.9},{"t":1985,"v":2.6},{"t":1987,"v":1.1}]},
    "mark": {"type": "line", "color": "#111", "strokeWidth": 0.8},
    "encoding": {"x": {"field": "t", "type": "quantitative", "title": null}, "y": {"field": "v", "type": "quantitative", "scale": {"domain": [-3, 3], "nice": false, "zero": false}, "axis": {"orient": "left", "title": "PDO", "titleFontSize": 19, "values": [-3,-2.5,-2,-1.5,-1,-0.5,0,0.5,1,1.5,2,2.5,3]}}}},
   {"data": {"values": [{"t":1571,"v":0.4},{"t":1579,"v":0.45},{"t":1587,"v":0.2},{"t":1596,"v":-0.1},{"t":1606,"v":-0.2},{"t":1618,"v":0.1},{"t":1628,"v":0.5},{"t":1638,"v":0.65},{"t":1650,"v":0.95},{"t":1661,"v":0.8},{"t":1673,"v":0.6},{"t":1685,"v":0.4},{"t":1697,"v":0.7},{"t":1709,"v":0.6},{"t":1717,"v":0.3},{"t":1728,"v":0.25},{"t":1740,"v":0.45},{"t":1752,"v":0.5},{"t":1760,"v":0.2},{"t":1768,"v":-0.2},{"t":1780,"v":0.0},{"t":1787,"v":-0.2},{"t":1795,"v":-0.2},{"t":1807,"v":0.2},{"t":1819,"v":0.45},{"t":1831,"v":0.45},{"t":1843,"v":0.3},{"t":1850,"v":0.35},{"t":1862,"v":0.8},{"t":1870,"v":0.75},{"t":1882,"v":0.5},{"t":1894,"v":0.25},{"t":1906,"v":0.0},{"t":1917,"v":-0.3},{"t":1925,"v":-0.1},{"t":1933,"v":0.5},{"t":1939,"v":0.8},{"t":1945,"v":0.3},{"t":1951,"v":-0.7},{"t":1957,"v":-1.0},{"t":1965,"v":-1.0},{"t":1972,"v":-0.3},{"t":1980,"v":0.8}]},
    "mark": {"type": "line", "color": "#000", "strokeWidth": 1.4, "interpolate": "monotone"},
    "encoding": {"x": {"field": "t", "type": "quantitative", "title": null}, "y": {"field": "v", "type": "quantitative", "axis": {"orient": "left", "title": "PDO", "titleFontSize": 19, "values": [-3,-2.5,-2,-1.5,-1,-0.5,0,0.5,1,1.5,2,2.5,3]}}}},
   {"data": {"values": [{"s":1630,"e":1700,"v":1.45,"c":"1.96 ≤ Z < 2.575"},{"s":1857,"e":1858,"v":1.28,"c":"1.96 ≤ Z < 2.575"},{"s":1985,"e":1985,"v":1.2,"c":"1.96 ≤ Z < 2.575"},{"s":1597,"e":1597,"v":-1.3,"c":"-2.575 < Z ≤ -1.96"},{"s":1765,"e":1765,"v":-1.38,"c":"-2.575 < Z ≤ -1.96"},{"s":1950,"e":1973,"v":-1.95,"c":"Z ≤ -2.575"}]},
    "mark": {"type": "rule", "strokeWidth": 6, "strokeCap": "square"},
    "encoding": {"x": {"field": "s", "type": "quantitative", "title": null}, "x2": {"field": "e"}, "y": {"field": "v", "type": "quantitative", "axis": {"orient": "left", "title": "PDO", "titleFontSize": 19, "values": [-3,-2.5,-2,-1.5,-1,-0.5,0,0.5,1,1.5,2,2.5,3]}},
      "color": {"field": "c", "type": "nominal", "scale": {"domain": ["Z ≤ -2.575","-2.575 < Z ≤ -1.96","1.96 ≤ Z < 2.575","Z ≥ 2.575"], "range": ["#000090","#6a7dff","#ff0000","#900000"]}, "legend": null}}}
  ]}
 ]
},
{
 "width": 547, "height": 115,
 "title": {"text": "e) Optimal PDO-M Ranking Regime Periods"},
 "resolve": {"scale": {"y": "independent"}},
 "layer": [
  {"data": {"values": [{"s":1997,"e":2010}]},
   "mark": {"type": "rect", "fill": "#b3b3b3", "stroke": "#555", "strokeWidth": 1},
   "encoding": {"x": {"field": "s", "type": "quantitative", "scale": {"domain": [1500, 2010], "nice": false, "zero": false}, "title": null}, "x2": {"field": "e"}}},
  {"data": {"values": [{"z":1.96},{"z":2.575},{"z":-1.96},{"z":-2.575}]},
   "mark": {"type": "rule", "strokeWidth": 1.2},
   "encoding": {"y": {"field": "z", "type": "quantitative", "scale": {"domain": [-5.1, 5.1], "nice": false, "zero": false}, "axis": {"orient": "right", "title": "Z", "values": [-5,-4,-3,-2,-1,0,1,2,3,4,5]}},
     "color": {"condition": {"test": "datum.z > 0", "value": "#404040"}, "value": "#000"}}},
  {"layer": [
   {"data": {"values": [{"t":1500,"v":0.9},{"t":1502,"v":-0.2},{"t":1504,"v":1.0},{"t":1506,"v":0.2},{"t":1508,"v":0.8},{"t":1510,"v":-0.1},{"t":1512,"v":0.6},{"t":1514,"v":1.5},{"t":1516,"v":0.3},{"t":1518,"v":-1.1},{"t":1520,"v":0.7},{"t":1522,"v":0.2},{"t":1524,"v":0.9},{"t":1526,"v":0.4},{"t":1528,"v":1.2},{"t":1530,"v":0.5},{"t":1532,"v":1.4},{"t":1534,"v":0.6},{"t":1536,"v":1.7},{"t":1538,"v":0.3},{"t":1540,"v":1.5},{"t":1542,"v":0.8},{"t":1544,"v":1.3},{"t":1546,"v":0.2},{"t":1548,"v":1.6},{"t":1550,"v":0.7},{"t":1552,"v":1.8},{"t":1554,"v":0.9},{"t":1556,"v":1.4},{"t":1558,"v":2.3},{"t":1560,"v":1.0},{"t":1562,"v":1.6},{"t":1564,"v":0.8},{"t":1566,"v":1.9},{"t":1568,"v":0.6},{"t":1570,"v":1.8},{"t":1572,"v":-1.0},{"t":1574,"v":0.5},{"t":1576,"v":-0.3},{"t":1578,"v":0.6},{"t":1580,"v":0.1},{"t":1582,"v":0.8},{"t":1584,"v":-1.35},{"t":1586,"v":0.4},{"t":1588,"v":-0.2},{"t":1590,"v":0.7},{"t":1592,"v":0.0},{"t":1594,"v":0.9},{"t":1596,"v":-0.4},{"t":1598,"v":0.5},{"t":1600,"v":1.0},{"t":1602,"v":0.1},{"t":1604,"v":0.7},{"t":1606,"v":-0.3},{"t":1608,"v":0.9},{"t":1610,"v":0.2},{"t":1612,"v":0.6},{"t":1614,"v":-1.35},{"t":1616,"v":0.4},{"t":1618,"v":1.0},{"t":1620,"v":-0.1},{"t":1622,"v":0.5},{"t":1624,"v":-0.6},{"t":1626,"v":0.3},{"t":1628,"v":-0.4},{"t":1630,"v":0.4},{"t":1632,"v":-1.3},{"t":1634,"v":0.2},{"t":1636,"v":-0.5},{"t":1638,"v":0.3},{"t":1640,"v":-0.7},{"t":1642,"v":0.4},{"t":1644,"v":-0.3},{"t":1646,"v":0.6},{"t":1648,"v":-0.8},{"t":1650,"v":0.1},{"t":1652,"v":-0.5},{"t":1654,"v":-1.75},{"t":1656,"v":0.2},{"t":1658,"v":-0.9},{"t":1660,"v":0.0},{"t":1662,"v":-0.6},{"t":1664,"v":0.3},{"t":1666,"v":-1.0},{"t":1668,"v":-0.3},{"t":1670,"v":-1.45},{"t":1672,"v":-0.4},{"t":1674,"v":0.2},{"t":1676,"v":-0.6},{"t":1678,"v":0.5},{"t":1680,"v":-0.2},{"t":1682,"v":0.9},{"t":1684,"v":0.3},{"t":1686,"v":0.8},{"t":1688,"v":-0.4},{"t":1690,"v":0.5},{"t":1692,"v":-0.8},{"t":1694,"v":0.1},{"t":1696,"v":-0.9},{"t":1698,"v":-0.3},{"t":1700,"v":-1.35},{"t":1702,"v":-0.5},{"t":1704,"v":-1.1},{"t":1706,"v":-0.2},{"t":1708,"v":-1.3},{"t":1710,"v":-0.6},{"t":1712,"v":0.9},{"t":1714,"v":-0.8},{"t":1716,"v":0.1},{"t":1718,"v":-1.1},{"t":1720,"v":-0.3},{"t":1722,"v":0.4},{"t":1724,"v":-0.2},{"t":1726,"v":0.6},{"t":1728,"v":-0.5},{"t":1730,"v":0.3},{"t":1732,"v":-0.4},{"t":1734,"v":0.7},{"t":1736,"v":0.0},{"t":1738,"v":0.9},{"t":1740,"v":-0.2},{"t":1742,"v":0.5},{"t":1744,"v":1.0},{"t":1746,"v":0.3},{"t":1748,"v":2.85},{"t":1750,"v":-0.2},{"t":1752,"v":-1.4},{"t":1754,"v":0.6},{"t":1756,"v":-0.3},{"t":1758,"v":0.8},{"t":1760,"v":0.1},{"t":1762,"v":0.9},{"t":1764,"v":1.2},{"t":1766,"v":-0.2},{"t":1768,"v":0.5},{"t":1770,"v":-0.6},{"t":1772,"v":0.4},{"t":1774,"v":-0.3},{"t":1776,"v":0.7},{"t":1778,"v":-0.5},{"t":1780,"v":0.2},{"t":1782,"v":-1.3},{"t":1784,"v":0.3},{"t":1786,"v":-0.4},{"t":1788,"v":0.6},{"t":1790,"v":-0.2},{"t":1792,"v":0.5},{"t":1794,"v":-0.6},{"t":1796,"v":1.65},{"t":1798,"v":0.2},{"t":1800,"v":-0.5},{"t":1802,"v":0.7},{"t":1804,"v":-0.3},{"t":1806,"v":0.6},{"t":1808,"v":-0.4},{"t":1810,"v":0.2},{"t":1812,"v":-1.3},{"t":1814,"v":0.4},{"t":1816,"v":-0.5},{"t":1818,"v":0.3},{"t":1820,"v":-0.7},{"t":1822,"v":0.1},{"t":1824,"v":-1.85},{"t":1826,"v":0.3},{"t":1828,"v":-0.4},{"t":1830,"v":0.8},{"t":1832,"v":0.2},{"t":1834,"v":1.8},{"t":1836,"v":0.4},{"t":1838,"v":1.2},{"t":1840,"v":-0.2},{"t":1842,"v":1.5},{"t":1844,"v":0.3},{"t":1846,"v":1.0},{"t":1848,"v":-0.5},{"t":1850,"v":1.4},{"t":1852,"v":0.2},{"t":1854,"v":1.3},{"t":1856,"v":-1.8},{"t":1858,"v":0.9},{"t":1860,"v":0.1},{"t":1862,"v":1.2},{"t":1864,"v":0.4},{"t":1866,"v":2.0},{"t":1868,"v":0.3},{"t":1870,"v":0.9},{"t":1872,"v":-0.4},{"t":1874,"v":0.6},{"t":1876,"v":-0.8},{"t":1878,"v":0.2},{"t":1880,"v":-1.1},{"t":1882,"v":0.3},{"t":1884,"v":-0.5},{"t":1886,"v":0.4},{"t":1888,"v":-0.3},{"t":1890,"v":0.5},{"t":1892,"v":-0.6},{"t":1894,"v":1.6},{"t":1896,"v":0.2},{"t":1898,"v":-0.4},{"t":1900,"v":-1.2},{"t":1902,"v":0.3},{"t":1904,"v":-0.5},{"t":1906,"v":0.8},{"t":1908,"v":1.4},{"t":1910,"v":0.5},{"t":1912,"v":1.2},{"t":1914,"v":0.6},{"t":1916,"v":1.7},{"t":1918,"v":0.8},{"t":1920,"v":1.3},{"t":1922,"v":0.4},{"t":1924,"v":1.1},{"t":1926,"v":0.2},{"t":1928,"v":0.9},{"t":1930,"v":0.0},{"t":1932,"v":0.7},{"t":1934,"v":-0.4},{"t":1936,"v":0.5},{"t":1938,"v":-0.3},{"t":1940,"v":1.2},{"t":1942,"v":-0.5},{"t":1944,"v":0.2},{"t":1946,"v":-0.8},{"t":1948,"v":-0.2},{"t":1950,"v":-1.0},{"t":1952,"v":-0.4},{"t":1954,"v":-1.5},{"t":1956,"v":-0.6},{"t":1958,"v":-1.3},{"t":1960,"v":-1.0},{"t":1962,"v":-1.7},{"t":1964,"v":-0.5},{"t":1966,"v":-1.1},{"t":1968,"v":-0.2},{"t":1970,"v":0.3},{"t":1972,"v":-0.5},{"t":1974,"v":0.4},{"t":1976,"v":-0.3},{"t":1978,"v":0.6},{"t":1980,"v":0.1},{"t":1982,"v":0.9},{"t":1984,"v":0.3},{"t":1986,"v":0.8},{"t":1988,"v":0.2},{"t":1990,"v":0.7},{"t":1992,"v":-0.2},{"t":1994,"v":1.2},{"t":1996,"v":0.2}]},
    "mark": {"type": "line", "color": "#111", "strokeWidth": 0.8},
    "encoding": {"x": {"field": "t", "type": "quantitative", "title": null}, "y": {"field": "v", "type": "quantitative", "scale": {"domain": [-3, 3], "nice": false, "zero": false}, "axis": {"orient": "left", "title": "PDO", "titleFontSize": 19, "values": [-3,-2.5,-2,-1.5,-1,-0.5,0,0.5,1,1.5,2,2.5,3]}}}},
   {"data": {"values": [{"t":1504,"v":0.6},{"t":1512,"v":0.45},{"t":1520,"v":0.45},{"t":1528,"v":0.6},{"t":1539,"v":0.85},{"t":1551,"v":1.0},{"t":1563,"v":1.15},{"t":1571,"v":0.9},{"t":1579,"v":0.5},{"t":1587,"v":0.3},{"t":1598,"v":0.3},{"t":1610,"v":0.25},{"t":1622,"v":0.05},{"t":1634,"v":-0.15},{"t":1646,"v":-0.2},{"t":1657,"v":-0.35},{"t":1665,"v":-0.55},{"t":1677,"v":-0.2},{"t":1689,"v":0.05},{"t":1701,"v":-0.4},{"t":1709,"v":-0.7},{"t":1720,"v":-0.6},{"t":1732,"v":-0.2},{"t":1744,"v":0.1},{"t":1752,"v":0.35},{"t":1764,"v":0.3},{"t":1776,"v":0.05},{"t":1787,"v":-0.1},{"t":1799,"v":0.1},{"t":1811,"v":0.0},{"t":1823,"v":-0.25},{"t":1835,"v":0.2},{"t":1843,"v":0.75},{"t":1854,"v":0.6},{"t":1866,"v":0.55},{"t":1878,"v":0.1},{"t":1890,"v":-0.1},{"t":1898,"v":0.05},{"t":1909,"v":0.6},{"t":1917,"v":0.95},{"t":1929,"v":0.7},{"t":1941,"v":0.2},{"t":1949,"v":-0.3},{"t":1957,"v":-0.7},{"t":1965,"v":-0.55},{"t":1976,"v":0.1},{"t":1988,"v":0.4}]},
    "mark": {"type": "line", "color": "#000", "strokeWidth": 1.4, "interpolate": "monotone"},
    "encoding": {"x": {"field": "t", "type": "quantitative", "title": null}, "y": {"field": "v", "type": "quantitative", "axis": {"orient": "left", "title": "PDO", "titleFontSize": 19, "values": [-3,-2.5,-2,-1.5,-1,-0.5,0,0.5,1,1.5,2,2.5,3]}}}},
   {"data": {"values": [{"s":1531,"e":1568,"v":2.1,"c":"Z ≥ 2.575"},{"s":1836,"e":1874,"v":1.32,"c":"1.96 ≤ Z < 2.575"},{"s":1910,"e":1926,"v":1.35,"c":"1.96 ≤ Z < 2.575"},{"s":1623,"e":1716,"v":-1.82,"c":"Z ≤ -2.575"},{"s":1950,"e":1965,"v":-1.5,"c":"-2.575 < Z ≤ -1.96"}]},
    "mark": {"type": "rule", "strokeWidth": 6, "strokeCap": "square"},
    "encoding": {"x": {"field": "s", "type": "quantitative", "title": null}, "x2": {"field": "e"}, "y": {"field": "v", "type": "quantitative", "axis": {"orient": "left", "title": "PDO", "titleFontSize": 19, "values": [-3,-2.5,-2,-1.5,-1,-0.5,0,0.5,1,1.5,2,2.5,3]}},
      "color": {"field": "c", "type": "nominal", "scale": {"domain": ["Z ≤ -2.575","-2.575 < Z ≤ -1.96","1.96 ≤ Z < 2.575","Z ≥ 2.575"], "range": ["#000090","#6a7dff","#ff0000","#900000"]}, "legend": null}}}
  ]}
 ]
},
{
 "width": 547, "height": 115,
 "title": {"text": "f) Optimal PDO-S Ranking Regime Periods"},
 "resolve": {"scale": {"y": "independent"}},
 "layer": [
  {"data": {"values": [{"s":1997,"e":2010}]},
   "mark": {"type": "rect", "fill": "#b3b3b3", "stroke": "#555", "strokeWidth": 1},
   "encoding": {"x": {"field": "s", "type": "quantitative", "scale": {"domain": [1500, 2010], "nice": false, "zero": false}, "title": null}, "x2": {"field": "e"}}},
  {"data": {"values": [{"z":1.96},{"z":2.575},{"z":-1.96},{"z":-2.575}]},
   "mark": {"type": "rule", "strokeWidth": 1.2},
   "encoding": {"y": {"field": "z", "type": "quantitative", "scale": {"domain": [-5.1, 5.1], "nice": false, "zero": false}, "axis": {"orient": "right", "title": "Z", "values": [-5,-4,-3,-2,-1,0,1,2,3,4,5]}},
     "color": {"condition": {"test": "datum.z > 0", "value": "#404040"}, "value": "#000"}}},
  {"layer": [
   {"data": {"values": [{"t":1500,"v":0.6},{"t":1502,"v":-0.8},{"t":1504,"v":0.4},{"t":1506,"v":-2.0},{"t":1508,"v":0.9},{"t":1510,"v":1.7},{"t":1512,"v":-0.6},{"t":1514,"v":0.3},{"t":1516,"v":-1.55},{"t":1518,"v":0.8},{"t":1520,"v":-0.3},{"t":1522,"v":1.1},{"t":1524,"v":-0.9},{"t":1526,"v":0.5},{"t":1528,"v":2.0},{"t":1530,"v":-0.4},{"t":1532,"v":0.9},{"t":1534,"v":-1.2},{"t":1536,"v":1.3},{"t":1538,"v":-0.5},{"t":1540,"v":1.7},{"t":1542,"v":-0.8},{"t":1544,"v":0.4},{"t":1546,"v":-2.3},{"t":1548,"v":0.2},{"t":1550,"v":-1.0},{"t":1552,"v":0.6},{"t":1554,"v":-1.6},{"t":1556,"v":-0.3},{"t":1558,"v":0.7},{"t":1560,"v":-1.1},{"t":1562,"v":0.4},{"t":1564,"v":-0.7},{"t":1566,"v":1.2},{"t":1568,"v":1.8},{"t":1570,"v":-0.9},{"t":1572,"v":0.3},{"t":1574,"v":-1.3},{"t":1576,"v":0.8},{"t":1578,"v":-0.5},{"t":1580,"v":0.9},{"t":1582,"v":-1.1},{"t":1584,"v":0.2},{"t":1586,"v":-0.6},{"t":1588,"v":1.0},{"t":1590,"v":-0.8},{"t":1592,"v":-1.7},{"t":1594,"v":0.4},{"t":1596,"v":-0.9},{"t":1598,"v":0.6},{"t":1600,"v":-0.4},{"t":1602,"v":0.9},{"t":1604,"v":-0.2},{"t":1606,"v":1.1},{"t":1608,"v":0.3},{"t":1610,"v":1.0},{"t":1612,"v":-1.5},{"t":1614,"v":1.4},{"t":1616,"v":0.2},{"t":1618,"v":0.9},{"t":1620,"v":-0.3},{"t":1622,"v":0.8},{"t":1624,"v":-0.5},{"t":1626,"v":1.0},{"t":1628,"v":-0.9},{"t":1630,"v":0.4},{"t":1632,"v":-1.2},{"t":1634,"v":0.7},{"t":1636,"v":1.4},{"t":1638,"v":-1.3},{"t":1640,"v":0.5},{"t":1642,"v":-0.4},{"t":1644,"v":0.9},{"t":1646,"v":-1.1},{"t":1648,"v":0.3},{"t":1650,"v":-0.8},{"t":1652,"v":1.0},{"t":1654,"v":-1.2},{"t":1656,"v":0.4},{"t":1658,"v":-0.6},{"t":1660,"v":0.8},{"t":1662,"v":-1.3},{"t":1664,"v":0.2},{"t":1666,"v":-0.9},{"t":1668,"v":2.3},{"t":1670,"v":-1.1},{"t":1672,"v":0.5},{"t":1674,"v":-0.7},{"t":1676,"v":0.9},{"t":1678,"v":-0.4},{"t":1680,"v":0.7},{"t":1682,"v":-1.0},{"t":1684,"v":0.3},{"t":1686,"v":-0.5},{"t":1688,"v":1.5},{"t":1690,"v":-0.8},{"t":1692,"v":0.4},{"t":1694,"v":-0.6},{"t":1696,"v":1.1},{"t":1698,"v":-0.3},{"t":1700,"v":0.6},{"t":1702,"v":-1.0},{"t":1704,"v":0.9},{"t":1706,"v":-0.4},{"t":1708,"v":0.3},{"t":1710,"v":-1.2},{"t":1712,"v":1.5},{"t":1714,"v":-0.5},{"t":1716,"v":0.7},{"t":1718,"v":-1.8},{"t":1720,"v":0.4},{"t":1722,"v":-0.7},{"t":1724,"v":1.0},{"t":1726,"v":-0.9},{"t":1728,"v":0.2},{"t":1730,"v":-1.4},{"t":1732,"v":-2.0},{"t":1734,"v":0.5},{"t":1736,"v":-1.1},{"t":1738,"v":0.3},{"t":1740,"v":-0.8},{"t":1742,"v":0.6},{"t":1744,"v":-1.2},{"t":1746,"v":1.2},{"t":1748,"v":-0.6},{"t":1750,"v":0.1},{"t":1752,"v":-1.3},{"t":1754,"v":-0.2},{"t":1756,"v":0.5},{"t":1758,"v":-1.0},{"t":1760,"v":0.7},{"t":1762,"v":-0.7},{"t":1764,"v":0.4},{"t":1766,"v":-1.3},{"t":1768,"v":0.6},{"t":1770,"v":-0.5},{"t":1772,"v":0.8},{"t":1774,"v":-1.1},{"t":1776,"v":0.3},{"t":1778,"v":-1.5},{"t":1780,"v":0.5},{"t":1782,"v":-0.6},{"t":1784,"v":0.9},{"t":1786,"v":-0.9},{"t":1788,"v":0.2},{"t":1790,"v":-0.4},{"t":1792,"v":1.9},{"t":1794,"v":-0.7},{"t":1796,"v":0.6},{"t":1798,"v":-0.3},{"t":1800,"v":0.8},{"t":1802,"v":-0.9},{"t":1804,"v":0.4},{"t":1806,"v":-0.5},{"t":1808,"v":1.0},{"t":1810,"v":-0.8},{"t":1812,"v":0.3},{"t":1814,"v":-1.1},{"t":1816,"v":0.7},{"t":1818,"v":-0.4},{"t":1820,"v":0.5},{"t":1822,"v":-1.0},{"t":1824,"v":0.2},{"t":1826,"v":-0.6},{"t":1828,"v":0.6},{"t":1830,"v":-1.6},{"t":1832,"v":0.1},{"t":1834,"v":-0.8},{"t":1836,"v":0.4},{"t":1838,"v":-1.2},{"t":1840,"v":-2.2},{"t":1842,"v":0.3},{"t":1844,"v":-0.9},{"t":1846,"v":0.5},{"t":1848,"v":-1.1},{"t":1850,"v":0.2},{"t":1852,"v":-0.7},{"t":1854,"v":1.0},{"t":1856,"v":-1.3},{"t":1858,"v":0.4},{"t":1860,"v":-0.5},{"t":1862,"v":1.1},{"t":1864,"v":-0.3},{"t":1866,"v":2.2},{"t":1868,"v":-0.8},{"t":1870,"v":0.6},{"t":1872,"v":-1.5},{"t":1874,"v":0.3},{"t":1876,"v":-0.9},{"t":1878,"v":1.0},{"t":1880,"v":-1.2},{"t":1882,"v":0.2},{"t":1884,"v":1.2},{"t":1886,"v":-0.7},{"t":1888,"v":0.4},{"t":1890,"v":-1.3},{"t":1892,"v":0.3},{"t":1894,"v":-0.8},{"t":1896,"v":0.6},{"t":1898,"v":-1.0},{"t":1900,"v":0.1},{"t":1902,"v":-0.6},{"t":1904,"v":0.9},{"t":1906,"v":-1.3},{"t":1908,"v":0.2},{"t":1910,"v":-0.9},{"t":1912,"v":0.5},{"t":1914,"v":-0.7},{"t":1916,"v":-2.0},{"t":1918,"v":0.4},{"t":1920,"v":-0.5},{"t":1922,"v":0.8},{"t":1924,"v":-0.2},{"t":1926,"v":0.9},{"t":1928,"v":0.1},{"t":1930,"v":1.1},{"t":1932,"v":-0.3},{"t":1934,"v":1.4},{"t":1936,"v":0.5},{"t":1938,"v":-0.4},{"t":1940,"v":1.2},{"t":1942,"v":-0.6},{"t":1944,"v":0.3},{"t":1946,"v":-1.0},{"t":1948,"v":-0.3},{"t":1950,"v":-1.2},{"t":1952,"v":-0.2},{"t":1954,"v":-0.9},{"t":1956,"v":-1.7},{"t":1958,"v":0.1},{"t":1960,"v":-1.1},{"t":1962,"v":-0.3},{"t":1964,"v":-0.8},{"t":1966,"v":0.2},{"t":1968,"v":-0.6},{"t":1970,"v":0.4},{"t":1972,"v":-0.2},{"t":1974,"v":0.6},{"t":1976,"v":0.1},{"t":1978,"v":0.9},{"t":1980,"v":0.4},{"t":1982,"v":2.3},{"t":1984,"v":0.7},{"t":1986,"v":1.1},{"t":1988,"v":1.6},{"t":1990,"v":0.5},{"t":1992,"v":1.2},{"t":1994,"v":0.3},{"t":1996,"v":0.8}]},
    "mark": {"type": "line", "color": "#111", "strokeWidth": 0.8},
    "encoding": {"x": {"field": "t", "type": "quantitative", "title": null}, "y": {"field": "v", "type": "quantitative", "scale": {"domain": [-3, 3], "nice": false, "zero": false}, "axis": {"orient": "left", "title": "PDO", "titleFontSize": 19, "values": [-3,-2.5,-2,-1.5,-1,-0.5,0,0.5,1,1.5,2,2.5,3]}}}},
   {"data": {"values": [{"t":1510,"v":-0.15},{"t":1520,"v":-0.1},{"t":1531,"v":0.0},{"t":1543,"v":-0.3},{"t":1555,"v":-0.5},{"t":1567,"v":-0.4},{"t":1579,"v":-0.35},{"t":1591,"v":-0.35},{"t":1602,"v":-0.1},{"t":1614,"v":0.35},{"t":1622,"v":0.3},{"t":1630,"v":0.05},{"t":1642,"v":0.0},{"t":1654,"v":-0.15},{"t":1665,"v":-0.3},{"t":1673,"v":-0.35},{"t":1685,"v":-0.05},{"t":1697,"v":0.0},{"t":1709,"v":-0.1},{"t":1720,"v":-0.1},{"t":1732,"v":-0.4},{"t":1748,"v":-0.5},{"t":1764,"v":-0.35},{"t":1776,"v":-0.15},{"t":1787,"v":-0.1},{"t":1799,"v":-0.05},{"t":1811,"v":-0.15},{"t":1823,"v":-0.25},{"t":1835,"v":-0.4},{"t":1846,"v":-0.3},{"t":1858,"v":0.0},{"t":1866,"v":-0.1},{"t":1878,"v":-0.3},{"t":1890,"v":-0.3},{"t":1902,"v":-0.4},{"t":1913,"v":-0.35},{"t":1925,"v":0.1},{"t":1933,"v":0.3},{"t":1941,"v":0.15},{"t":1949,"v":-0.45},{"t":1957,"v":-0.5},{"t":1969,"v":-0.3},{"t":1980,"v":0.3},{"t":1988,"v":0.55},{"t":1994,"v":0.5}]},
    "mark": {"type": "line", "color": "#000", "strokeWidth": 1.4, "interpolate": "monotone"},
    "encoding": {"x": {"field": "t", "type": "quantitative", "title": null}, "y": {"field": "v", "type": "quantitative", "axis": {"orient": "left", "title": "PDO", "titleFontSize": 19, "values": [-3,-2.5,-2,-1.5,-1,-0.5,0,0.5,1,1.5,2,2.5,3]}}}},
   {"data": {"values": [{"s":1531,"e":1540,"v":1.45,"c":"1.96 ≤ Z < 2.575"},{"s":1611,"e":1619,"v":2.05,"c":"Z ≥ 2.575"},{"s":1639,"e":1639,"v":1.17,"c":"1.96 ≤ Z < 2.575"},{"s":1714,"e":1714,"v":1.38,"c":"1.96 ≤ Z < 2.575"},{"s":1930,"e":1939,"v":1.72,"c":"Z ≥ 2.575"},{"s":1983,"e":1994,"v":2.45,"c":"Z ≥ 2.575"},{"s":1555,"e":1555,"v":-1.95,"c":"Z ≤ -2.575"},{"s":1649,"e":1649,"v":-1.28,"c":"-2.575 < Z ≤ -1.96"},{"s":1672,"e":1672,"v":-1.45,"c":"-2.575 < Z ≤ -1.96"},{"s":1752,"e":1752,"v":-1.65,"c":"Z ≤ -2.575"},{"s":1853,"e":1854,"v":-1.35,"c":"-2.575 < Z ≤ -1.96"},{"s":1883,"e":1914,"v":-1.35,"c":"-2.575 < Z ≤ -1.96"},{"s":1952,"e":1973,"v":-1.55,"c":"-2.575 < Z ≤ -1.96"}]},
    "mark": {"type": "rule", "strokeWidth": 6, "strokeCap": "square"},
    "encoding": {"x": {"field": "s", "type": "quantitative", "title": null}, "x2": {"field": "e"}, "y": {"field": "v", "type": "quantitative", "axis": {"orient": "left", "title": "PDO", "titleFontSize": 19, "values": [-3,-2.5,-2,-1.5,-1,-0.5,0,0.5,1,1.5,2,2.5,3]}},
      "color": {"field": "c", "type": "nominal", "scale": {"domain": ["Z ≤ -2.575","-2.575 < Z ≤ -1.96","1.96 ≤ Z < 2.575","Z ≥ 2.575"], "range": ["#000090","#6a7dff","#ff0000","#900000"]}, "legend": null}}}
  ]}
 ]
}
],
"config": {
 "font": "Liberation Serif",
 "background": "#ffffff",
 "view": {"stroke": "#000", "strokeWidth": 1},
 "title": {"font": "Liberation Serif", "fontSize": 17, "fontWeight": "normal", "anchor": "start", "frame": "group", "color": "#000", "offset": 4, "dx": 6},
 "axis": {"labelFont": "Liberation Serif", "titleFont": "Liberation Serif", "labelColor": "#000", "titleColor": "#000", "tickColor": "#000", "domainColor": "#000", "grid": false, "titleFontWeight": "normal", "labelFontSize": 12, "labelOverlap": false},
 "axisBottom": {"values": [1500,1510,1520,1530,1540,1550,1560,1570,1580,1590,1600,1610,1620,1630,1640,1650,1660,1670,1680,1690,1700,1710,1720,1730,1740,1750,1760,1770,1780,1790,1800,1810,1820,1830,1840,1850,1860,1870,1880,1890,1900,1910,1920,1930,1940,1950,1960,1970,1980,1990,2000,2010], "labelExpr": "datum.value % 50 === 0 ? datum.label : ''", "format": "d", "tickSize": 5, "labelPadding": 2, "labelFlush": false},
 "axisLeft": {"tickSize": 5, "labelPadding": 3, "titlePadding": 6, "format": "d", "labelExpr": "datum.value % 1 === 0 ? datum.label : ''"},
 "axisRight": {"tickSize": 5, "labelPadding": 22, "labelAlign": "right", "labelFontWeight": "bold", "labelExpr": "datum.value % 2 === 0 && abs(datum.value) < 5 ? datum.label : ''", "titleAngle": 0, "titleFontSize": 18, "titleAlign": "left", "titleBaseline": "middle", "titlePadding": 4}
}
}
